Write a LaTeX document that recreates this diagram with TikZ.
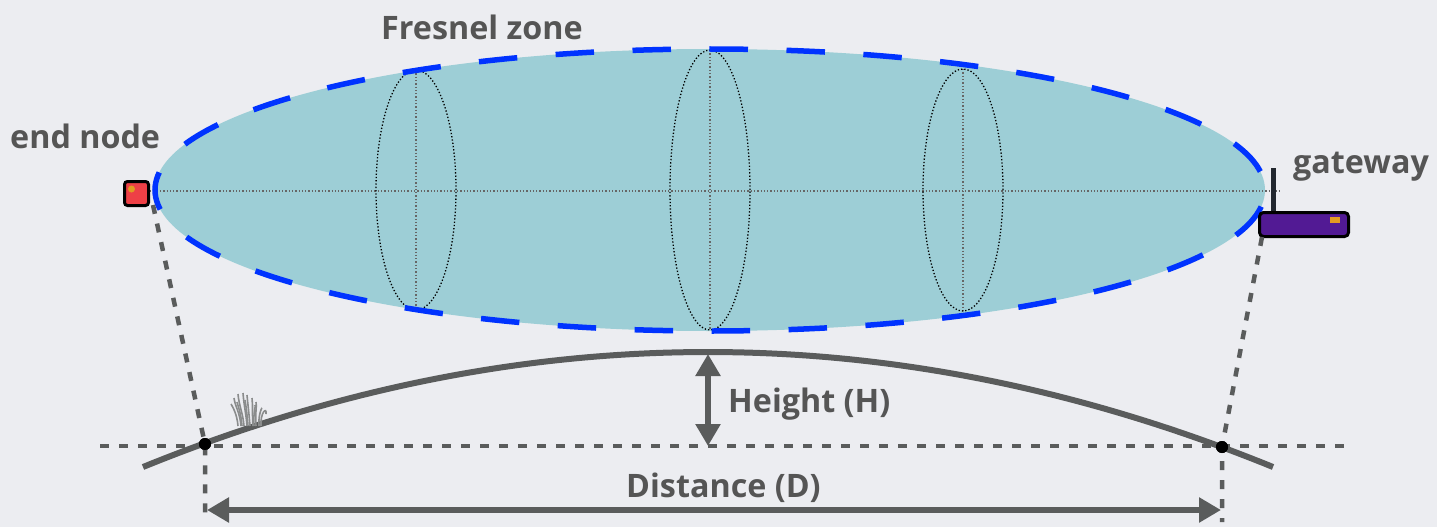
\documentclass[tikz,border=0pt]{standalone}
\usepackage{fontspec}
\setmainfont{Open Sans}
\usetikzlibrary{arrows.meta}
\definecolor{bg}{HTML}{ECEDF1}
\definecolor{zone}{HTML}{9DCED6}
\definecolor{zoneblue}{HTML}{0033FF}
\definecolor{ink}{HTML}{555555}
\definecolor{ground}{HTML}{5A5C5C}
\definecolor{nodered}{HTML}{EE4046}
\definecolor{ledorange}{HTML}{E39A22}
\definecolor{gwpurple}{HTML}{521A94}
\definecolor{antenna}{HTML}{22272F}
\definecolor{grass}{HTML}{8A8C8C}
\tikzset{
  lbl/.style={font=\bfseries\fontsize{32.3}{38}\selectfont, text=ink, inner sep=0pt},
  guide/.style={draw=ground, line width=4.5pt, dash pattern=on 9pt off 10pt},
  axisdot/.style={draw=gray!80!black, line width=1.3pt, dotted},
  section/.style={draw=black, line width=1.3pt, dotted},
  bigdarrow/.style={draw=ground, line width=6pt, {Triangle[length=22pt,width=24pt]}-{Triangle[length=22pt,width=24pt]}},
  pt/.style={circle, fill=black, inner sep=0pt, minimum size=12pt}
}
\begin{document}
\begin{tikzpicture}[x=1pt,y=-1pt]
\fill[bg] (0,0) rectangle (1437,527);
\useasboundingbox (0,0) rectangle (1437,527);

% Fresnel zone
\fill[zone] (710,190) ellipse [x radius=555pt, y radius=141pt];
% axis
\coordinate (axL) at (150,191);
\coordinate (axR) at (1280,191);
\draw[axisdot] (axL) -- (axR);
% cross sections
\foreach \cx/\ry in {416/120, 710/140, 963/121}{
  \draw[axisdot] (\cx,190-\ry) -- (\cx,190+\ry);
  \draw[section] (\cx,190) ellipse [x radius=40pt, y radius=\ry pt];
}
\draw[draw=zoneblue, line width=5.5pt, dash pattern=on 38.5pt off 38.5pt, dash phase=57.75pt]
  (710,190) ellipse [x radius=555pt, y radius=141pt];

% ground
\coordinate (g0) at (143,467);
\coordinate (g1) at (1273,467);
\draw[ground, line width=6pt] (g0) .. controls (519.7,313.7) and (896.3,313.7) .. (g1);

% grass
\begin{scope}[draw=grass, line width=1.6pt]
\foreach \bx/\tx/\ty in {238/231/404, 241/234/398, 244/238/394, 247/243/393, 250/247/395, 253/252/398, 256/256/402, 259/262/408, 242/237/402, 248/245/400, 254/255/405, 261/266/414}{
  \draw (\bx,426) .. controls (\bx-1,413) and (\tx+1,406) .. (\tx,\ty);
}
\end{scope}

% horizontal reference line
\coordinate (hL) at (100,446);
\coordinate (hR) at (1352,446);
\draw[guide] (hL) -- (hR);

% end node
\node[draw=black, line width=3pt, fill=nodered, rounded corners=3pt, minimum size=24pt, inner sep=0pt] (en) at (136.5,193.5) {};
\fill[ledorange] (131.5,189) circle (3.5pt);
% gateway
\draw[antenna, line width=5pt] (1273,168) -- (1273,212);
\node[draw=black, line width=3pt, fill=gwpurple, rounded corners=4pt, minimum width=89pt, minimum height=24pt, inner sep=0pt] (gw) at (1304,224.5) {};
\fill[ledorange] (1329.5,216.5) rectangle (1339.5,222.5);

% ground points
\node[pt] (pL) at (205,444) {};
\node[pt] (pR) at (1222,447) {};
\coordinate (bL) at (205,522);
\coordinate (bR) at (1222,522);

\draw[guide] (153,205) -- (pL.center) -- (bL);
\draw[guide] (1262,237) -- (pR.center) -- (bR);
\node[pt] at (pL.center) {};
\node[pt] at (pR.center) {};

% distance arrow
\coordinate (dL) at (207,510);
\coordinate (dR) at (1221,510);
\draw[bigdarrow] (dL) -- (dR);
% height arrow
\coordinate (hTop) at (708,354);
\coordinate (hBot) at (708,446);
\draw[bigdarrow] (hTop) -- (hBot);

% labels
\node[lbl, anchor=base west] (lf) at (381,40) {Fresnel zone};
\node[lbl, anchor=base west] (le) at (10,148) {end node};
\node[lbl, anchor=base west] (lg) at (1293,173) {gateway};
\node[lbl, anchor=base west] (lh) at (728,412) {Height (H)};
\node[lbl, anchor=base west] (ld) at (626,497) {Distance (D)};
\end{tikzpicture}
\end{document}
